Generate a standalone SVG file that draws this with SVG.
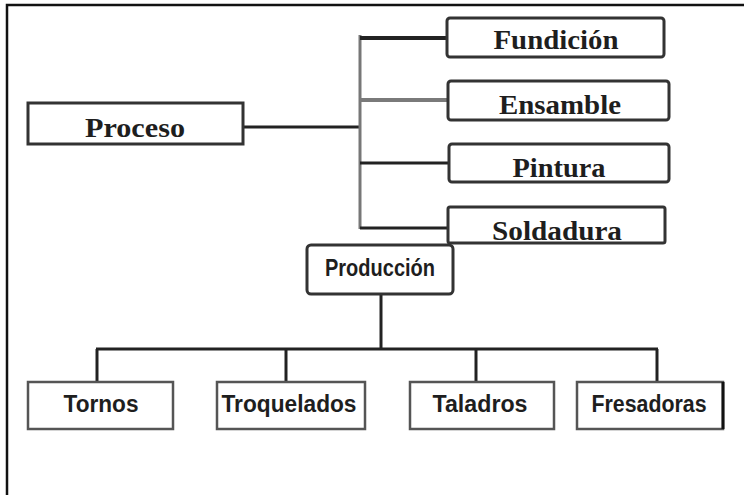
<svg xmlns="http://www.w3.org/2000/svg" width="744" height="495" viewBox="0 0 744 495">
  <style>
    .frame { fill: #ffffff; stroke: #111111; stroke-width: 2.5; }
    .box { fill: #ffffff; stroke: #333333; stroke-width: 3; }
    .box-soft { fill: #ffffff; stroke: #555555; stroke-width: 2.5; }
    .lbl-serif { font-family: "Liberation Serif", "DejaVu Serif", serif; font-weight: bold; font-size: 27px; fill: #1e1e1e; text-anchor: middle; }
    .lbl-sans { font-family: "Liberation Sans", "DejaVu Sans", sans-serif; font-weight: bold; font-size: 23px; fill: #1e1e1e; text-anchor: middle; }
    .wire { fill: none; stroke: #222222; stroke-width: 3; }
    .wire-thick { fill: none; stroke: #222222; stroke-width: 4; }
    .wire-grey { fill: none; stroke: #777777; stroke-width: 3; }
    .wire-grey-thick { fill: none; stroke: #7a7a7a; stroke-width: 4; }
  </style>

  <rect width="744" height="495" fill="#ffffff"/>
  <!-- outer frame, running past the right and bottom edges -->
  <rect class="frame" x="7" y="5" width="760" height="520"/>

  <g id="connectors">
    <!-- Proceso to the trunk -->
    <line class="wire" x1="243" y1="127" x2="360" y2="127"/>
    <line class="wire-grey" x1="360" y1="35" x2="360" y2="229"/>
    <line class="wire-thick" x1="360" y1="38" x2="447" y2="38"/>
    <line class="wire-grey-thick" x1="360" y1="100" x2="448" y2="100"/>
    <line class="wire" x1="360" y1="163" x2="449" y2="163"/>
    <line class="wire" x1="360" y1="228" x2="448" y2="228"/>
    <!-- Producción to the machine groups -->
    <line class="wire" x1="381" y1="294" x2="381" y2="349"/>
    <line class="wire" x1="96" y1="349" x2="658" y2="349"/>
    <line class="wire" x1="97" y1="349" x2="97" y2="382"/>
    <line class="wire" x1="286" y1="349" x2="286" y2="382"/>
    <line class="wire" x1="476" y1="349" x2="476" y2="382"/>
    <line class="wire" x1="657" y1="349" x2="657" y2="382"/>
  </g>

  <g id="proceso">
    <rect class="box" x="28" y="103" width="215" height="41"/>
    <text class="lbl-serif" x="135" y="137" textLength="100" lengthAdjust="spacingAndGlyphs">Proceso</text>
  </g>
  <g id="fundicion">
    <rect class="box" x="447" y="18" width="217" height="39" rx="3"/>
    <text class="lbl-serif" x="556" y="49" textLength="125" lengthAdjust="spacingAndGlyphs">Fundición</text>
  </g>
  <g id="ensamble">
    <rect class="box" x="448" y="81" width="221" height="39" rx="3"/>
    <text class="lbl-serif" x="560" y="114" textLength="122" lengthAdjust="spacingAndGlyphs">Ensamble</text>
  </g>
  <g id="pintura">
    <rect class="box" x="449" y="144" width="220" height="38" rx="3"/>
    <text class="lbl-serif" x="559" y="177" textLength="93" lengthAdjust="spacingAndGlyphs">Pintura</text>
  </g>
  <g id="soldadura">
    <rect class="box" x="448" y="207" width="217" height="36" rx="2"/>
    <text class="lbl-serif" x="557" y="240" textLength="130" lengthAdjust="spacingAndGlyphs">Soldadura</text>
  </g>

  <g id="produccion">
    <rect class="box" x="307" y="245" width="146" height="49" rx="4"/>
    <text class="lbl-sans" x="380" y="276" font-size="22" textLength="110" lengthAdjust="spacingAndGlyphs">Producción</text>
  </g>
  <g id="tornos">
    <rect class="box-soft" x="28" y="382" width="145" height="47"/>
    <text class="lbl-sans" x="101" y="412" textLength="75" lengthAdjust="spacingAndGlyphs">Tornos</text>
  </g>
  <g id="troquelados">
    <rect class="box-soft" x="217" y="382" width="148" height="47"/>
    <text class="lbl-sans" x="289" y="412" textLength="135" lengthAdjust="spacingAndGlyphs">Troquelados</text>
  </g>
  <g id="taladros">
    <rect class="box-soft" x="410" y="382" width="144" height="47"/>
    <text class="lbl-sans" x="480" y="412" textLength="95" lengthAdjust="spacingAndGlyphs">Taladros</text>
  </g>
  <g id="fresadoras">
    <rect class="box-soft" x="577" y="382" width="146" height="47"/>
    <line x1="723" y1="382" x2="723" y2="429" stroke="#111111" stroke-width="3"/>
    <text class="lbl-sans" x="649" y="412" textLength="115" lengthAdjust="spacingAndGlyphs">Fresadoras</text>
  </g>
</svg>
